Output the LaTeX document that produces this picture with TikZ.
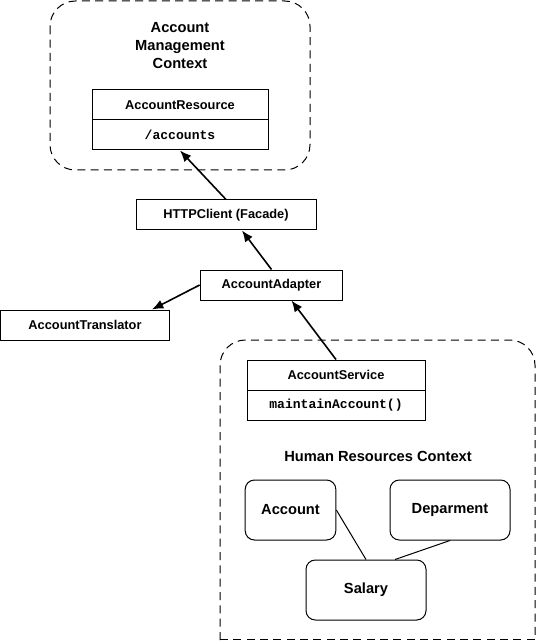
\documentclass[tikz,border=0pt]{standalone}
\usepackage{fontspec}
\setmainfont{Liberation Sans}
\setmonofont{Liberation Mono}
\usepackage{tikz}
\usetikzlibrary{calc,positioning,arrows.meta}
\tikzset{>={Latex[length=8.5pt,width=7pt]}}
\tikzset{
  cls/.style={draw, line width=0.75pt, fill=white, minimum height=22.5pt, inner sep=0pt, font=\bfseries\fontsize{9.6}{11}\selectfont},
  ops/.style={cls, font=\ttfamily\bfseries\fontsize{9.8}{11}\selectfont},
  ctx/.style={dash pattern=on 6pt off 4pt, line width=0.75pt},
  ent/.style={draw, line width=0.75pt, rounded corners=7pt, minimum height=45pt, font=\bfseries\fontsize{11}{13}\selectfont},
  ctxtitle/.style={align=center, font=\bfseries\fontsize{11}{13.5}\selectfont},
  link/.style={->, line width=1.2pt},
  assoc/.style={line width=0.75pt}
}

\begin{document}
\begin{tikzpicture}[x=0.75pt,y=-0.75pt]
            \useasboundingbox (0,0) rectangle (536,641);

            % bounded contexts
            \draw[ctx, rounded corners=19pt] (50,1) rectangle (310,170);
            \draw[ctx, rounded corners=19pt] (220,640) -- (220,340) -- (535,340) -- (535,640);
            \draw[ctx] (220,639.5) -- (535,639.5);

            \node[ctxtitle] (amctx) at (180,46) {Account\\ Management\\ Context};
            \node[ctxtitle] (hrctx) at (378,456) {Human Resources Context};

            \node[cls, minimum width=132pt] (res) at (180,105) {AccountResource};
            \node[ops, minimum width=132pt, below=-0.75pt of res] (resops) {/accounts};

            \node[cls, minimum width=135pt] (http) at (226,215) {HTTPClient (Facade)};
            \node[cls, minimum width=107pt] (adapter) at (271.5,285) {AccountAdapter};
            \node[cls, minimum width=126.75pt] (trans) at (85,325) {AccountTranslator};

            \node[cls, minimum width=133.5pt] (svc) at (336,375) {AccountService};
            \node[ops, minimum width=133.5pt, below=-0.75pt of svc] (svcops) {maintainAccount()};

            \node[ent, minimum width=68pt] (acct) at (290.5,510) {Account};
            \node[ent, minimum width=90pt] (dept) at (450,510) {Deparment};
            \node[ent, minimum width=90pt] (sal) at (366,590) {Salary};

            % connectors
            \draw[link] (http.north) -- (resops.south);
            \draw[link] (adapter.north) -- ($(http.south)+(16,0)$);
            \draw[link] (adapter.west) -- ($(trans.north east)+(-18,0)$);
            \draw[link] (svc.north) -- ($(adapter.south)+(20,0)$);

            \draw[assoc] (acct.east) -- (sal.north);
            \draw[assoc] (dept.south) -- ($(sal.north)+(29,0)$);
\end{tikzpicture}
\end{document}
